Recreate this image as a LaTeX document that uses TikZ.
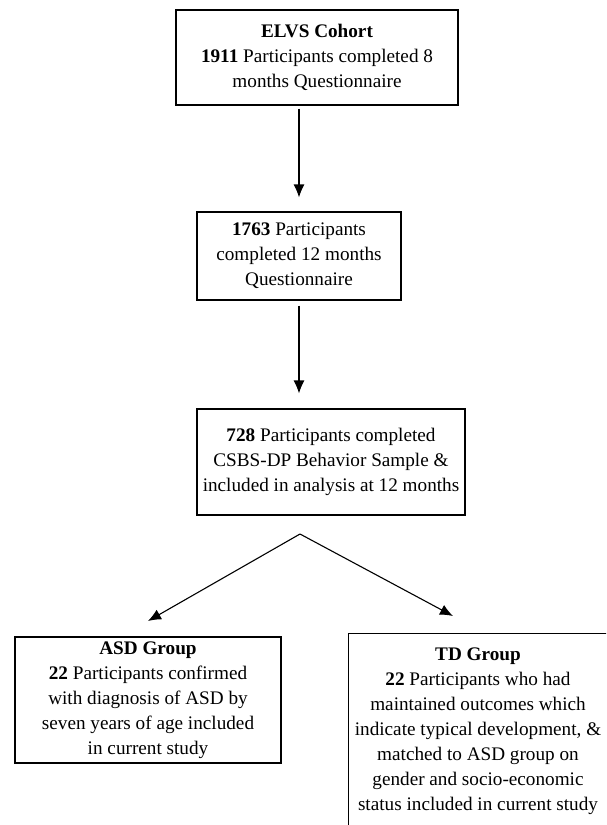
\documentclass[tikz,border=0pt]{standalone}
\usepackage{fontspec}
\setmainfont{Liberation Serif}
\usetikzlibrary{arrows.meta}

\begin{document}
\begin{tikzpicture}[x=1pt, y=-1pt,
    box/.style={draw, line width=1.1pt, align=center, inner sep=0pt,
        font=\fontsize{19.2}{25}\selectfont},
    arr/.style={line width=1.1pt, -{Latex[length=13pt, width=11pt]}}]
    \clip (0,0) rectangle (606,825);

    % Kohorte und Fragebogen
    \node[box, minimum width=282pt, minimum height=95pt] (cohort) at (317,57.5)
        {\textbf{ELVS Cohort}\\ \textbf{1911} Participants completed 8\\ months Questionnaire};
    \node[box, minimum width=204pt, minimum height=88pt] (twelve) at (299,256)
        {\textbf{1763} Participants\\ completed 12 months\\ Questionnaire};
    \node[box, minimum width=268pt, minimum height=106pt] (sample) at (331,462)
        {\textbf{728} Participants completed\\ CSBS-DP Behavior Sample \&\\ included in analysis at 12 months};
    \draw[arr, shorten <=3pt, shorten >=14pt] (cohort.south -| twelve.north) -- (twelve.north);
    \draw[arr, shorten <=5pt, shorten >=15pt] (twelve.south) -- (twelve.south |- sample.north);

    % Gruppen
    \node[box, minimum width=266pt, minimum height=126pt] (asd) at (148,700)
        {\textbf{ASD Group}\\ \textbf{22} Participants confirmed\\ with diagnosis of ASD by\\ seven years of age included\\ in current study};
    \node[box, minimum width=264pt, minimum height=200pt, anchor=north west] (td) at (348,633) {};
    \node[font=\fontsize{19.2}{25}\selectfont, align=center, anchor=north, inner sep=0pt] (tdtext) at (478,648)
        {\textbf{TD Group}\\ \textbf{22} Participants who had\\ maintained outcomes which\\ indicate typical development, \&\\ matched to ASD group on\\ gender and socio-economic\\ status included in current study};

    \coordinate (split) at (300,534);
    \coordinate (asdtip) at (148,621);
    \coordinate (tdtip) at (453,616);
    \draw[arr] (split) -- (asdtip);
    \draw[arr] (split) -- (tdtip);
\end{tikzpicture}
\end{document}
